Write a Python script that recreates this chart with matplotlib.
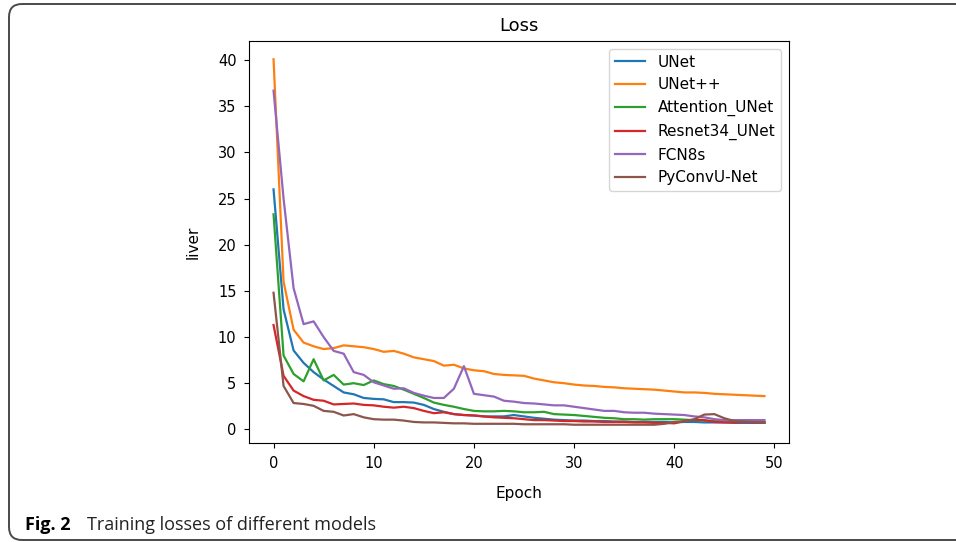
import matplotlib
matplotlib.use("Agg")
import matplotlib.pyplot as plt
from matplotlib.patches import FancyBboxPatch
import numpy as np

epochs = list(range(50))

unet = [26.0, 13.0, 8.55, 7.2, 6.2, 5.4, 4.7, 4.0, 3.8, 3.4,
        3.3, 3.25, 2.95, 2.95, 2.9, 2.65, 2.2, 1.9, 1.65, 1.55,
        1.5, 1.4, 1.4, 1.4, 1.55, 1.4, 1.25, 1.15, 1.05, 1.0,
        0.95, 0.95, 0.9, 0.9, 0.85, 0.85, 0.8, 0.8, 0.8, 0.8,
        0.75, 0.8, 0.8, 0.75, 0.75, 0.75, 0.7, 0.7, 0.7, 0.7]

unetpp = [40.1, 16.0, 10.8, 9.4, 9.0, 8.7, 8.8, 9.1, 9.0, 8.9,
          8.7, 8.4, 8.5, 8.2, 7.8, 7.6, 7.4, 6.9, 7.0, 6.6,
          6.4, 6.3, 6.0, 5.9, 5.85, 5.8, 5.5, 5.3, 5.1, 5.0,
          4.85, 4.75, 4.7, 4.6, 4.55, 4.45, 4.4, 4.35, 4.3, 4.2,
          4.1, 4.0, 4.0, 3.95, 3.85, 3.8, 3.75, 3.7, 3.65, 3.6]

att_unet = [23.3, 8.0, 6.0, 5.2, 7.6, 5.3, 5.9, 4.85, 5.0, 4.8,
            5.3, 4.9, 4.7, 4.3, 3.85, 3.4, 2.9, 2.65, 2.45, 2.2,
            2.0, 1.95, 1.95, 2.0, 1.95, 1.85, 1.85, 1.9, 1.65, 1.6,
            1.55, 1.45, 1.35, 1.25, 1.2, 1.1, 1.1, 1.05, 1.1, 1.1,
            1.1, 1.05, 1.0, 0.95, 0.9, 0.9, 0.85, 0.85, 0.85, 0.8]

resnet34_unet = [11.3, 5.8, 4.2, 3.6, 3.2, 3.1, 2.7, 2.75, 2.8, 2.65,
                 2.6, 2.45, 2.35, 2.45, 2.3, 2.0, 1.75, 1.85, 1.65, 1.55,
                 1.5, 1.4, 1.3, 1.25, 1.2, 1.1, 1.0, 1.0, 0.95, 0.9,
                 0.9, 0.85, 0.85, 0.8, 0.8, 0.8, 0.75, 0.75, 0.7, 0.7,
                 0.65, 0.9, 1.05, 1.0, 0.8, 0.75, 0.75, 0.8, 0.75, 0.75]

fcn8s = [36.7, 25.0, 15.3, 11.4, 11.7, 10.0, 8.5, 8.2, 6.2, 5.9,
         5.1, 4.75, 4.4, 4.45, 3.95, 3.65, 3.4, 3.4, 4.4, 6.85,
         3.85, 3.7, 3.55, 3.1, 3.0, 2.85, 2.8, 2.7, 2.6, 2.6,
         2.45, 2.3, 2.15, 2.0, 2.0, 1.85, 1.8, 1.8, 1.7, 1.65,
         1.6, 1.55, 1.4, 1.3, 1.1, 1.0, 1.0, 1.0, 1.0, 1.0]

pyconv = [14.8, 4.7, 2.85, 2.75, 2.55, 2.0, 1.9, 1.5, 1.65, 1.3,
          1.1, 1.05, 1.05, 0.95, 0.8, 0.75, 0.75, 0.7, 0.65, 0.65,
          0.6, 0.6, 0.6, 0.6, 0.6, 0.55, 0.55, 0.55, 0.55, 0.55,
          0.5, 0.5, 0.5, 0.5, 0.5, 0.5, 0.5, 0.5, 0.5, 0.6,
          0.8, 0.85, 1.1, 1.6, 1.65, 1.2, 0.9, 0.85, 0.8, 0.7]

series = [("UNet", unet), ("UNet++", unetpp), ("Attention_UNet", att_unet),
          ("Resnet34_UNet", resnet34_unet), ("FCN8s", fcn8s), ("PyConvU-Net", pyconv)]

title = "Loss"
xlabel = "Epoch"
ylabel = "liver"
caption_bold = "Fig. 2"
caption_text = "Training losses of different models"

W, H = 956, 542
fig = plt.figure(figsize=(W / 100, H / 100), dpi=100)

# background frame
bg = fig.add_axes([0, 0, 1, 1], zorder=0)
bg.set_xlim(0, W)
bg.set_ylim(H, 0)
bg.axis("off")
bg.add_patch(FancyBboxPatch((9, 4), 1100, 536,
                            boxstyle="round,pad=0,rounding_size=13",
                            fill=False, edgecolor="#4a4a4a", linewidth=1.4))
bg.text(25, 530, caption_bold, fontsize=13, fontweight="bold",
        family="Open Sans", va="baseline", ha="left")
bg.text(87, 530, caption_text, fontsize=13, family="Open Sans",
        va="baseline", ha="left", color="#222222")

ax = fig.add_axes([249 / W, 1 - 443 / H, (789 - 249) / W, (443 - 41) / H], zorder=1)
for name, vals in series:
    ax.plot(epochs, vals, label=name, linewidth=1.6)
ax.set_title(title, fontsize=13, pad=7)
ax.set_xlabel(xlabel, fontsize=11, labelpad=11)
ax.set_ylabel(ylabel, fontsize=11, labelpad=12)
ax.set_xticks([0, 10, 20, 30, 40, 50])
ax.set_yticks([0, 5, 10, 15, 20, 25, 30, 35, 40])
ax.tick_params(axis="x", labelsize=10.5, pad=5.5)
ax.tick_params(axis="y", labelsize=10.5, pad=5.5)
ax.legend(loc="upper right", fontsize=11)

fig.savefig("out.png", dpi=100)
